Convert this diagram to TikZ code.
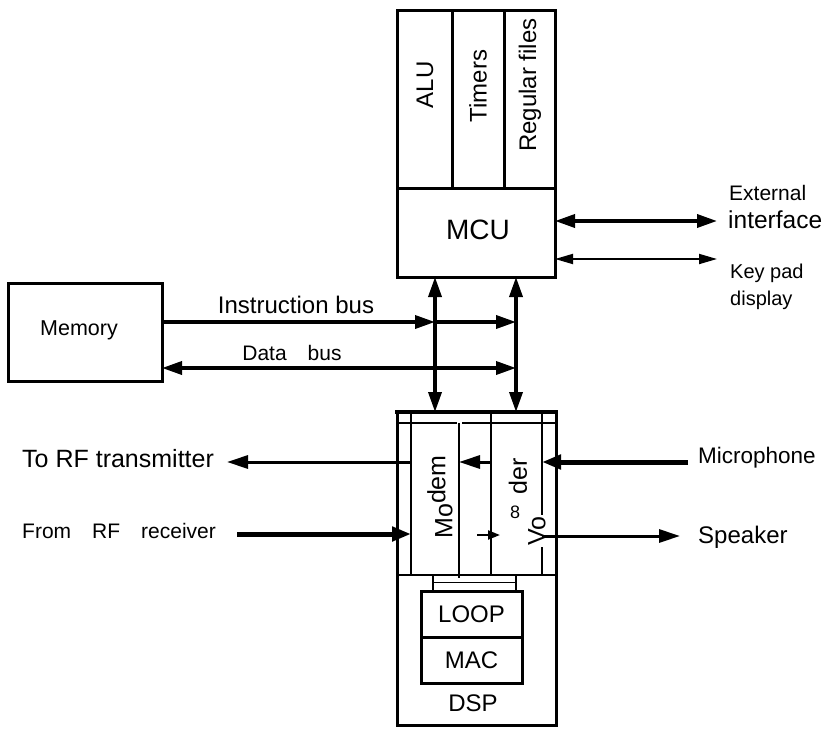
\documentclass[tikz,border=0pt]{standalone}
\usepackage{fontspec}
\setmainfont{Liberation Sans}
\usetikzlibrary{arrows.meta, positioning, calc}

\begin{document}
\begin{tikzpicture}[x=1pt, y=-1pt,
  blk/.style={draw, line width=3pt, inner sep=0pt, outer sep=0pt},
  rule/.style={line width=2.8pt},
  txt/.style={font=\fontsize{24}{28}\selectfont, inner sep=0pt},
  big/.style={font=\fontsize{25}{30}\selectfont, inner sep=0pt},
  small/.style={font=\fontsize{21}{25}\selectfont, inner sep=0pt},
  rot/.style={txt, rotate=90},
  bus/.style={line width=3.5pt, -{Triangle[length=20pt, width=13pt]}},
  dbus/.style={line width=3.5pt, {Triangle[length=20pt, width=13pt]}-{Triangle[length=20pt, width=13pt]}},
  thinbus/.style={line width=1.8pt, {Triangle[length=18pt, width=10pt]}-{Triangle[length=18pt, width=10pt]}},
  sig/.style={line width=3pt, -{Triangle[length=21pt, width=13pt]}},
  fat/.style={line width=5pt, -{Triangle[length=19pt, width=14pt]}},
  tiny/.style={line width=2.2pt, -{Triangle[length=12pt, width=9pt]}}
]
\useasboundingbox (0,0) rectangle (824,728);

% MCU with its three cells
\node[blk, minimum width=55, minimum height=178] (alu) at (424.5,99) {};
\node[blk, minimum width=52, minimum height=178] (tmr) at (478,99) {};
\node[blk, minimum width=51, minimum height=178] (reg) at (529.5,99) {};
\node[blk, minimum width=158, minimum height=89] (mcu) at (476,232.5) {};
\node[rot] (alutxt) at (425,85) {ALU};
\node[rot] (tmrtxt) at (478,86) {Timers};
\node[rot] (regtxt) at (530,85) {Regular files};
\node[font=\fontsize{28}{33}\selectfont, inner sep=0pt] (mcutxt) at (478,230) {MCU};

% memory
\node[blk, minimum width=154, minimum height=98] (mem) at (85,332) {};
\node[font=\fontsize{21.5}{25}\selectfont, inner sep=0pt] (memtxt) at (79,330) {Memory};

% DSP
\node[blk, minimum width=159, minimum height=313] (dsp) at (476.5,568.5) {};
\draw[line width=4.5pt] (395,412) -- (558,412);
\draw[rule] (397,423) -- (457,423) (462,423) -- (556,423);
\draw[rule] (411,412) -- (411,575) (491,412) -- (491,575) (459,423) -- (459,578);
\draw[rule] (542,412) -- (542,575);
\draw[rule] (397,575) -- (556,575);
\node[blk, minimum width=101, minimum height=46, txt] (loop) at (471.5,614) {LOOP};
\node[blk, minimum width=101, minimum height=46, txt, below=0pt of loop] (mac) {MAC};
\draw[rule] (433,575) -- (433,591) (516,575) -- (516,591);
\draw[line width=1pt] (433,582) -- (516,582);
\node[txt] (dsptxt) at (473,703) {DSP};
\node[rot, font=\fontsize{25}{30}\selectfont] (modem) at (440,497) {Mo\raisebox{7pt}{dem}};
\node[rot, font=\fontsize{25}{30}\selectfont] (der) at (518,476) {der};
\node[font=\fontsize{18}{21}\selectfont, inner sep=0pt] (eight) at (515,512) {8};
\node[rot, font=\fontsize{25}{30}\selectfont, fill=white, inner sep=1pt] (vo) at (537,531) {Vo};

% buses between MCU and DSP
\coordinate (b1t) at (435,277);
\coordinate (b1b) at (435,412);
\coordinate (b2t) at (516,277);
\coordinate (b2b) at (516,412);
\draw[dbus] (b1t) -- (b1b);
\draw[dbus] (b2t) -- (b2b);

\coordinate (ib1) at (435,322);
\coordinate (ib2) at (516,322);
\coordinate (db2) at (516,368);
\draw[bus] (ib1 -| mem.east) -- (ib1);
\draw[bus] (ib1) -- (ib2);
\draw[dbus] (db2 -| mem.east) -- (db2);
\node[txt, anchor=base] (ibtxt) at (296,313) {Instruction bus};
\node[small, anchor=base] (dbtxt) at (292,360) {Data\quad bus};

% external side of MCU
\coordinate (ext) at (717,221);
\coordinate (kp) at (717,259);
\draw[dbus] (ext -| mcu.east) -- (ext);
\draw[thinbus] (kp -| mcu.east) -- (kp);
\node[small, anchor=base west] (exttxt) at (729,200) {External};
\node[font=\fontsize{24.5}{29}\selectfont, inner sep=0pt, anchor=base west] (iftxt) at (728,228) {interface};
\node[font=\fontsize{20}{24}\selectfont, inner sep=0pt, anchor=base west] (kptxt) at (730,278) {Key pad};
\node[font=\fontsize{20}{24}\selectfont, inner sep=0pt, anchor=base west] (distxt) at (730,305) {display};

% radio and audio paths
\node[big, anchor=base west] (tx) at (22,467) {To RF transmitter};
\node[small, anchor=base west] (rx) at (22,538) {From\quad RF\quad receiver};
\node[font=\fontsize{22.5}{27}\selectfont, inner sep=0pt, anchor=base west] (mic) at (698,463) {Microphone};
\node[txt, anchor=base west] (spk) at (698,543) {Speaker};

\coordinate (txa) at (411,462);
\coordinate (txb) at (227,462);
\coordinate (vm1) at (491,462);
\coordinate (vm2) at (459,462);
\coordinate (mica) at (688,462);
\coordinate (micb) at (542,462);
\coordinate (rxa) at (237,534);
\coordinate (rxb) at (411,534);
\coordinate (mv1) at (477,535);
\coordinate (mv2) at (500,535);
\coordinate (spka) at (542,536);
\coordinate (spkb) at (680,536);
\draw[sig] (txa) -- (txb);
\draw[sig] (vm1) -- (vm2);
\draw[fat] (mica) -- (micb);
\draw[fat] (rxa) -- (rxb);
\draw[tiny] (mv1) -- (mv2);
\draw[sig] (spka) -- (spkb);
\end{tikzpicture}
\end{document}
